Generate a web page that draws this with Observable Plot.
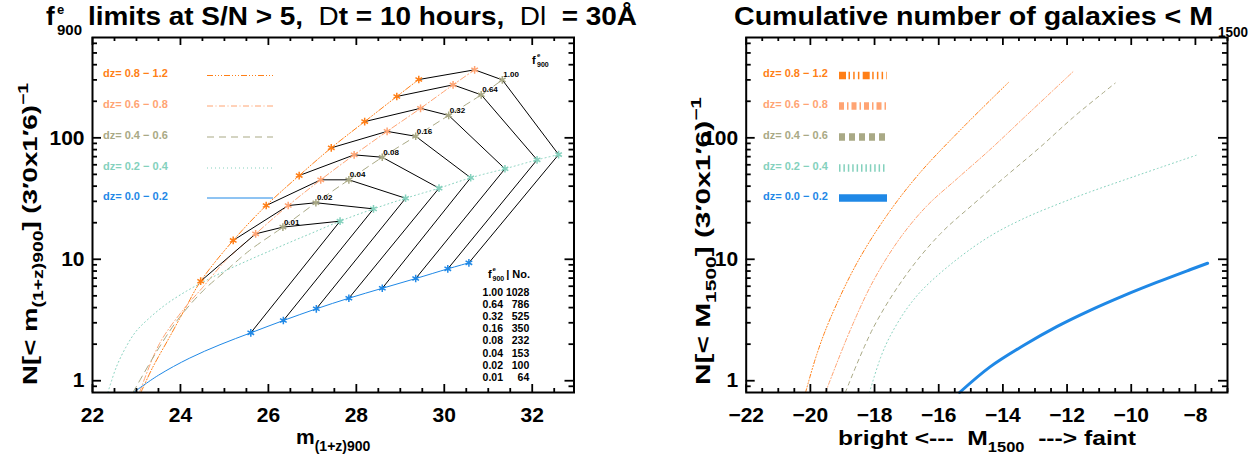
<!DOCTYPE html>
<html><head><meta charset="utf-8">
<script src="https://cdn.jsdelivr.net/npm/d3@7"></script>
<script src="https://cdn.jsdelivr.net/npm/@observablehq/plot@0.6"></script>
<style>
html,body{margin:0;padding:0;background:#fff;}
#wrap{position:relative;width:1249px;height:454px;overflow:hidden;}
#wrap svg{position:absolute;top:0;}
</style></head><body><div id="wrap"></div>
<script>
// ---------------- data ----------------
const fLevels = ["1.00","0.64","0.32","0.16","0.08","0.04","0.02","0.01"];
const fCounts = ["1028","786","525","350","232","153","100","64"];
const dzLabels = ["dz= 0.8 − 1.2","dz= 0.6 − 0.8","dz= 0.4 − 0.6","dz= 0.2 − 0.4","dz= 0.0 − 0.2"];

// left panel: limits (asterisks) per dz bin, one entry per fLevels value
const starM_08_12 = [29.42,28.92,28.19,27.43,26.70,25.95,25.20,24.46];
const starN_08_12 = [302,219,136,82.7,48.9,27.7,14.3,6.6];
const starM_06_08 = [30.69,30.20,29.46,28.70,27.95,27.19,26.45,25.71];
const starN_06_08 = [363,273,175,113,72.4,45.1,27.7,16.2];
const starM_04_06 = [31.32,30.84,30.10,29.35,28.59,27.83,27.08,26.33];
const starN_04_06 = [300,226,153,103,69.2,45.1,29.2,18.4];
const starM_02_04 = [32.60,32.11,31.38,30.60,29.88,29.12,28.39,27.63];
const starN_02_04 = [72.8,65.9,55.6,46.9,38.5,31.8,26.0,20.6];
const starM_00_02 = [30.56,30.08,29.35,28.59,27.83,27.09,26.34,25.60];
const starN_00_02 = [9.35,8.34,6.94,5.77,4.78,3.91,3.13,2.48];

// left panel: bright end of each curve (below its first asterisk)
const tailM_08_12 = [23.10,23.37,23.75,24.12];
const tailN_08_12 = [0.8,1.29,2.28,4.0];
const tailM_06_08 = [23.07,23.52,24.05,24.51,25.03];
const tailN_06_08 = [0.8,2.01,3.79,5.89,9.77];
const tailM_04_06 = [22.92,23.52,23.98,24.52,25.04,25.57];
const tailN_04_06 = [0.8,1.89,3.33,5.53,8.08,11.8];
const tailM_02_04 = [22.35,22.54,22.76,22.99,23.30,23.67,24.13,24.58,25.04,25.57,26.10,26.55,27.0];
const tailN_02_04 = [0.8,1.29,1.89,2.55,3.3,4.25,5.45,6.68,8.1,9.9,12.0,14.1,16.5];
const tailM_00_02 = [22.93,23.5,24.2,24.9];
const tailN_00_02 = [0.8,1.11,1.53,1.98];

// right panel: cumulative number vs M1500
const magM_08_12 = [-20.15,-19.8,-19.38,-18.55,-17.6,-16.6,-15.23,-13.83];
const cumN_08_12 = [0.8,1.65,3.25,9.3,23.3,51,123,285];
const magM_06_08 = [-19.53,-18.76,-18.03,-17.2,-16.37,-15.43,-14.4,-13.36,-11.8];
const cumN_06_08 = [0.8,2.6,6.7,15,27.5,46,80,145,353];
const magM_04_06 = [-18.91,-18.03,-16.99,-15.95,-14.91,-13.88,-12.84,-11.8,-10.5];
const cumN_04_06 = [0.8,2.76,7.6,16.2,28.6,49,83.7,148,282];
const magM_02_04 = [-18.16,-17.8,-17.51,-17.0,-16.47,-15.43,-14.4,-13.36,-12.32,-11.28,-10.25,-9.21,-7.94];
const cumN_02_04 = [0.8,1.58,2.34,3.9,5.75,10,15.5,21.6,28.2,35.9,44.7,55.6,72.4];
const magM_00_02 = [-15.35,-14.4,-13.36,-12.32,-11.28,-10.25,-9.21,-8.17,-7.62];
const cumN_00_02 = [0.8,1.3,1.95,2.79,3.8,5.0,6.45,8.2,9.28];

const xTicksLeft = [22,24,26,28,30,32];
const xTicksRight = [-22,-20,-18,-16,-14,-12,-10,-8];
const yTicks = [1,10,100];
const yMinor = [0.9,2,3,4,5,6,7,8,9,20,30,40,50,60,70,80,90,200,300,400,500,600];

// ---------------- styles ----------------
const FONT = "'Liberation Sans', Arial, Helvetica, sans-serif";
const colors = ["#ff7f17","#ffa473","#a9a985","#84d1bd","#1f88e6"];
const thinDash = ["6,2,1,2,1,2,1,2","6,2.5,1,2.5","7,5","1,3",null];
const rightDash = ["4,2,1,2,1,2,1,2","4,2,1,2","4,4","1,3",null];
const thickDash = ["7,2.5,1.5,3.2,1.5,3.2,1.5,3.3","5,3,1.5,3","6,4","1.5,2.9",null];
const rightWidth = [1,1,1,1,3];

const starM = [starM_08_12,starM_06_08,starM_04_06,starM_02_04,starM_00_02];
const starN = [starN_08_12,starN_06_08,starN_04_06,starN_02_04,starN_00_02];
const tailM = [tailM_08_12,tailM_06_08,tailM_04_06,tailM_02_04,tailM_00_02];
const tailN = [tailN_08_12,tailN_06_08,tailN_04_06,tailN_02_04,tailN_00_02];
const magM = [magM_08_12,magM_06_08,magM_04_06,magM_02_04,magM_00_02];
const cumN = [cumN_08_12,cumN_06_08,cumN_04_06,cumN_02_04,cumN_00_02];

const H = 454, MT = 37, MB = 62;
const minorOf = (lo, hi, majors) => d3.range(lo, hi + 1e-9, 0.5).filter(v => !majors.includes(v));

function frameMarks(width, ml, mr, xMajor, xMinor) {
  const pw = width - ml - mr, ph = H - MT - MB;
  const tk = {stroke: "black", strokeWidth: 1.8};
  return [
    Plot.tickX(xMajor, {x: d => d, insetTop: ph - 8, ...tk}),
    Plot.tickX(xMajor, {x: d => d, insetBottom: ph - 8, ...tk}),
    Plot.tickX(xMinor, {x: d => d, insetTop: ph - 4, ...tk}),
    Plot.tickX(xMinor, {x: d => d, insetBottom: ph - 4, ...tk}),
    Plot.tickY(yTicks, {y: d => d, insetRight: pw - 9, ...tk}),
    Plot.tickY(yTicks, {y: d => d, insetLeft: pw - 9, ...tk}),
    Plot.tickY(yMinor, {y: d => d, insetRight: pw - 5, ...tk}),
    Plot.tickY(yMinor, {y: d => d, insetLeft: pw - 5, ...tk}),
    Plot.frame({stroke: "black", strokeWidth: 2}),
    Plot.axisX({ticks: xMajor, tickSize: 0, tickPadding: 15, fontSize: 21, fontWeight: "bold", label: null,
      tickFormat: d => d < 0 ? "−" + (-d) : String(d)}),
    Plot.axisY({ticks: yTicks, tickSize: 0, tickPadding: 8, fontSize: 21, fontWeight: "bold", label: null,
      tickFormat: d => String(d)})
  ];
}

// ---------------- left panel ----------------
const LW = 640, LML = 92, LMR = 66.5;
const curvesL = colors.map((c, i) => {
  const pts = tailM[i].map((m, j) => ({m, n: tailN[i][j]}))
    .concat(starM[i].map((m, j) => ({m, n: starN[i][j]})).reverse());
  return Plot.line(pts, {x: "m", y: "n", stroke: c, strokeWidth: 1, strokeDasharray: thinDash[i], curve: "catmull-rom"});
});
const poly = fLevels.flatMap((f, j) => colors.map((c, i) => ({f, m: starM[i][j], n: starN[i][j]})));
const stars = colors.flatMap((c, i) => starM[i].map((m, j) => ({c, m, n: starN[i][j]})));
const flabels = fLevels.map((f, j) => ({f, m: starM[2][j], n: starN[2][j]}));

const plotL = Plot.plot({
  width: LW, height: H, marginLeft: LML, marginRight: LMR, marginTop: MT, marginBottom: MB,
  x: {domain: [22, 32.95]}, y: {type: "log", domain: [0.8, 670]},
  style: {fontFamily: FONT, fontWeight: "bold", background: "transparent", overflow: "visible", color: "black"},
  marks: [
    ...curvesL,
    Plot.line(poly, {x: "m", y: "n", z: "f", stroke: "black", strokeWidth: 1}),
    Plot.dot(stars, {x: "m", y: "n", symbol: "asterisk", r: 3.6, stroke: "c", strokeWidth: 1.5}),
    Plot.text(flabels, {x: "m", y: "n", text: "f", dx: 1, dy: -5, textAnchor: "start", fontSize: 8, fontWeight: "bold"}),
    ...frameMarks(LW, LML, LMR, xTicksLeft, minorOf(22, 32.5, xTicksLeft))
  ]
});

// ---------------- right panel ----------------
const RW = 609, RML = 105.7, RMR = 22;
const curvesR = colors.map((c, i) => Plot.line(magM[i].map((M, j) => ({M, n: cumN[i][j]})),
  {x: "M", y: "n", stroke: c, strokeWidth: rightWidth[i], strokeDasharray: rightDash[i], curve: "catmull-rom"}));
const plotR = Plot.plot({
  width: RW, height: H, marginLeft: RML, marginRight: RMR, marginTop: MT, marginBottom: MB,
  x: {domain: [-22, -7]}, y: {type: "log", domain: [0.8, 670]},
  style: {fontFamily: FONT, fontWeight: "bold", background: "transparent", overflow: "visible", color: "black"},
  marks: [
    ...curvesR,
    ...frameMarks(RW, RML, RMR, xTicksRight, minorOf(-22, -7, xTicksRight))
  ]
});

const wrap = document.getElementById("wrap");
wrap.appendChild(plotL); plotL.style.left = "0px";
wrap.appendChild(plotR); plotR.style.left = "640px";

// ---------------- annotations ----------------
function rich(g, x, y, size, parts, opts = {}) {
  const t = g.append("text").attr("x", x).attr("y", y).attr("font-size", size)
    .attr("font-weight", "bold").attr("fill", opts.fill || "black").style("white-space", "pre")
    .attr("text-anchor", opts.anchor || "start");
  if (opts.rotate) t.attr("transform", `rotate(${opts.rotate},${x},${y})`);
  if (opts.length) t.attr("textLength", opts.length).attr("lengthAdjust", "spacingAndGlyphs");
  let cur = 0;
  for (const p of parts) {
    const s = t.append("tspan").text(p.t);
    const sh = p.shift || 0;
    if (sh - cur) s.attr("dy", sh - cur);
    cur = sh;
    if (p.size) s.attr("font-size", p.size);
    if (p.weight) s.attr("font-weight", p.weight);
  }
  return t;
}

const gL = d3.select(plotL).append("g").attr("font-family", FONT).attr("text-anchor", "start");
const gR = d3.select(plotR).append("g").attr("font-family", FONT).attr("text-anchor", "start");

// titles
rich(gL, 46, 25, 26, [{t: "f"}]);
rich(gL, 57, 14, 13, [{t: "e"}]);
rich(gL, 57, 35, 14, [{t: "900"}], {length: 25});
rich(gL, 88, 25, 26, [{t: "limits at S/N > 5,  "}, {t: "D", weight: "normal"}, {t: "t = 10 hours,  "},
  {t: "Dl", weight: "normal"}, {t: "  = 30Å"}], {length: 549});
rich(gR, 94, 25, 26, [{t: "Cumulative number of galaxies < M"}], {length: 479});
rich(gR, 578, 37, 14, [{t: "1500"}], {length: 30});

// axis titles
rich(gL, 37, 385, 20, [{t: "N[< m"}, {t: "(1+z)900", size: 14, shift: 6}, {t: "] (3′0x1′6)", shift: 0},
  {t: "−1", size: 14, shift: -9}], {rotate: -90, length: 302});
rich(gR, 70, 385, 20, [{t: "N[< M"}, {t: "1500", size: 14, shift: 6}, {t: "] (3′0x1′6)", shift: 0},
  {t: "−1", size: 14, shift: -9}], {rotate: -90, length: 288});
rich(gL, 296, 444, 21, [{t: "m"}, {t: "(1+z)900", size: 14, shift: 7}]);
rich(gR, 198, 445, 21, [{t: "bright <---  M"}, {t: "1500", size: 14, shift: 7}, {t: "  ---> faint", shift: 0}], {length: 298});

// legends
const rowY = [75.5, 106, 137, 168, 198];
dzLabels.forEach((lab, i) => {
  rich(gL, 103, rowY[i] + 1.5, 11, [{t: lab}], {fill: colors[i]});
  gL.append("line").attr("x1", 207).attr("x2", 273).attr("y1", rowY[i]).attr("y2", rowY[i])
    .attr("stroke", colors[i]).attr("stroke-width", 1).attr("stroke-dasharray", thinDash[i]);
  rich(gR, 123, rowY[i] + 1.5, 11, [{t: lab}], {fill: colors[i]});
  gR.append("line").attr("x1", 199).attr("x2", 247).attr("y1", rowY[i]).attr("y2", rowY[i])
    .attr("stroke", colors[i]).attr("stroke-width", 7.5).attr("stroke-dasharray", thickDash[i]);
});

// f900 label, top right of left panel
rich(gL, 532, 64, 11, [{t: "f"}]);
rich(gL, 537, 57, 6, [{t: "e"}]);
rich(gL, 537, 67, 7, [{t: "900"}]);

// table
rich(gL, 488, 278, 11, [{t: "f"}]);
rich(gL, 492.5, 271, 6, [{t: "e"}]);
rich(gL, 492.5, 281, 7, [{t: "900"}]);
rich(gL, 530, 278, 11, [{t: "| No."}], {anchor: "end"});
fLevels.forEach((f, j) => {
  const y = 296 + j * 12.1;
  rich(gL, 503, y, 10.5, [{t: f}], {anchor: "end"});
  rich(gL, 529.3, y, 10.5, [{t: fCounts[j]}], {anchor: "end"});
});
</script></body></html>
